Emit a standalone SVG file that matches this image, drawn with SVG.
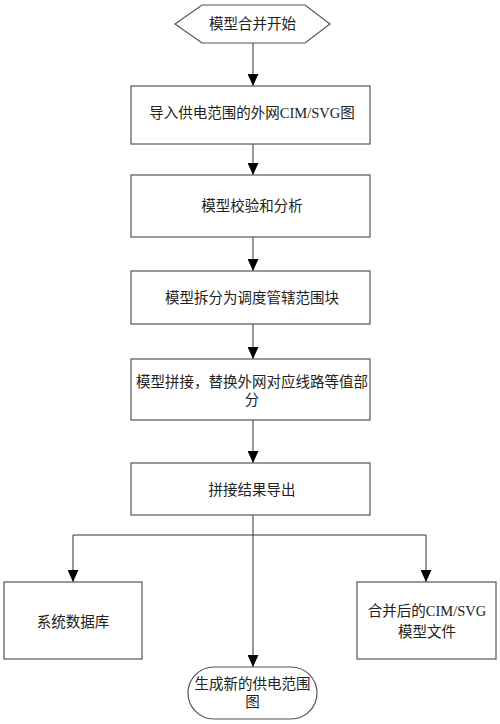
<svg xmlns="http://www.w3.org/2000/svg" width="500" height="724" viewBox="0 0 500 724">
<defs>
<marker id="arr" viewBox="0 0 12 11" refX="12" refY="5.5" markerWidth="12" markerHeight="11" markerUnits="userSpaceOnUse" orient="auto">
<path d="M0,0 L12,5.5 L0,11 Z" fill="#000"/>
</marker>
<style>
.box{fill:#fff;stroke:#555;stroke-width:1.2}
.ln{fill:none;stroke:#333;stroke-width:1}
.t{font-family:"Liberation Serif","Noto Sans CJK SC",serif;font-size:14.5px;fill:#222;text-anchor:middle}
</style>
</defs>
<rect width="500" height="724" fill="#fff"/>
<g id="connectors">
<path class="ln" d="M253,43 V86" marker-end="url(#arr)"/>
<path class="ln" d="M253,144 V175" marker-end="url(#arr)"/>
<path class="ln" d="M253,237 V271" marker-end="url(#arr)"/>
<path class="ln" d="M253,324 V359" marker-end="url(#arr)"/>
<path class="ln" d="M253,420 V463" marker-end="url(#arr)"/>
<path class="ln" d="M253,515 V667" marker-end="url(#arr)"/>
<path class="ln" d="M253,535 H73 V582" marker-end="url(#arr)"/>
<path class="ln" d="M253,535 H426 V582" marker-end="url(#arr)"/>
</g>
<g id="start">
<polygon class="box" points="175,24 202,5 305,5 330,24 305,43 202,43"/>
<text class="t" x="252.5" y="29">模型合并开始</text>
</g>
<g id="import">
<rect class="box" x="131" y="86" width="239" height="58"/>
<text class="t" x="252" y="118">导入供电范围的外网CIM/SVG图</text>
</g>
<g id="verify">
<rect class="box" x="131" y="175" width="239" height="62"/>
<text class="t" x="252" y="211">模型校验和分析</text>
</g>
<g id="split">
<rect class="box" x="131" y="271" width="239" height="53"/>
<text class="t" x="252" y="303">模型拆分为调度管辖范围块</text>
</g>
<g id="merge">
<rect class="box" x="131" y="359" width="239" height="61"/>
<text class="t" x="252" y="387">模型拼接，替换外网对应线路等值部</text>
<text class="t" x="252" y="405">分</text>
</g>
<g id="export">
<rect class="box" x="131" y="463" width="239" height="52"/>
<text class="t" x="252" y="495">拼接结果导出</text>
</g>
<g id="db">
<rect class="box" x="4" y="582" width="138" height="77"/>
<text class="t" x="73" y="627">系统数据库</text>
</g>
<g id="file">
<rect class="box" x="357" y="582" width="139" height="77"/>
<text class="t" x="427" y="616">合并后的CIM/SVG</text>
<text class="t" x="427" y="637">模型文件</text>
</g>
<g id="end">
<rect class="box" x="188" y="667" width="129" height="52" rx="26" ry="26"/>
<text class="t" x="252.5" y="689">生成新的供电范围</text>
<text class="t" x="252.5" y="707">图</text>
</g>
</svg>
